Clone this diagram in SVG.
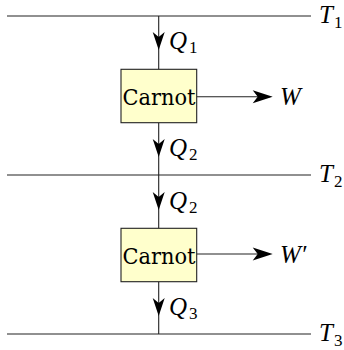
<svg xmlns="http://www.w3.org/2000/svg" width="344" height="350" viewBox="0 0 344 350">
<style>
.ln{stroke:#222;stroke-width:1.1;fill:none}
.box{fill:#FFFFCC;stroke:#222;stroke-width:1.1}
.txt{font-size:22px;fill:#000}
.m{font-style:italic;font-size:25px;fill:#000}
.s{font-style:normal;font-size:17px}
.ah{fill:#000}
</style>
<defs>
<path id="adown" class="ah" d="M0,0 L-6,-18 L0,-13 L6,-18 Z"/>
<path id="aright" class="ah" d="M0,0 L-20,-6.5 L-15,0 L-20,6.5 Z"/>
</defs>
<g id="reservoirs" font-family="Liberation Serif">
<g id="T1"><line class="ln" x1="7" y1="16" x2="311" y2="16"/><text class="m" x="319" y="23">T<tspan class="s" dx="1" dy="5">1</tspan></text></g>
<g id="T2"><line class="ln" x1="7" y1="175" x2="311" y2="175"/><text class="m" x="319" y="182">T<tspan class="s" dx="1" dy="5">2</tspan></text></g>
<g id="T3"><line class="ln" x1="7" y1="334" x2="311" y2="334"/><text class="m" x="319" y="341">T<tspan class="s" dx="1" dy="5">3</tspan></text></g>
</g>
<g id="connectors">
<line class="ln" x1="158.7" y1="16" x2="158.7" y2="69.3"/>
<use href="#adown" x="158.7" y="50"/>
<line class="ln" x1="158.7" y1="122.7" x2="158.7" y2="228.3"/>
<use href="#adown" x="158.7" y="157"/>
<use href="#adown" x="158.7" y="210"/>
<line class="ln" x1="158.7" y1="281.7" x2="158.7" y2="334"/>
<use href="#adown" x="158.7" y="316"/>
<line class="ln" x1="196.7" y1="96.7" x2="270" y2="96.7"/>
<use href="#aright" x="272.7" y="96.7"/>
<line class="ln" x1="196.7" y1="254" x2="270" y2="254"/>
<use href="#aright" x="272.7" y="254"/>
</g>
<g id="labels" font-family="Liberation Serif">
<text class="m" x="169" y="49">Q<tspan class="s" dx="2" dy="4">1</tspan></text>
<text class="m" x="169" y="156">Q<tspan class="s" dx="2" dy="4">2</tspan></text>
<text class="m" x="169" y="209">Q<tspan class="s" dx="2" dy="4">2</tspan></text>
<text class="m" x="169" y="315">Q<tspan class="s" dx="2" dy="4">3</tspan></text>
<text class="m" x="280" y="105">W</text>
<text class="m" x="280" y="263">W′</text>
</g>
<g id="carnot1" font-family="DejaVu Serif">
<rect class="box" x="121" y="69.3" width="75.7" height="53.4"/>
<text class="txt" x="159" y="105" text-anchor="middle" textLength="73" lengthAdjust="spacingAndGlyphs">Carnot</text>
</g>
<g id="carnot2" font-family="DejaVu Serif">
<rect class="box" x="121" y="228.3" width="75.7" height="53.4"/>
<text class="txt" x="159" y="264" text-anchor="middle" textLength="73" lengthAdjust="spacingAndGlyphs">Carnot</text>
</g>
</svg>
